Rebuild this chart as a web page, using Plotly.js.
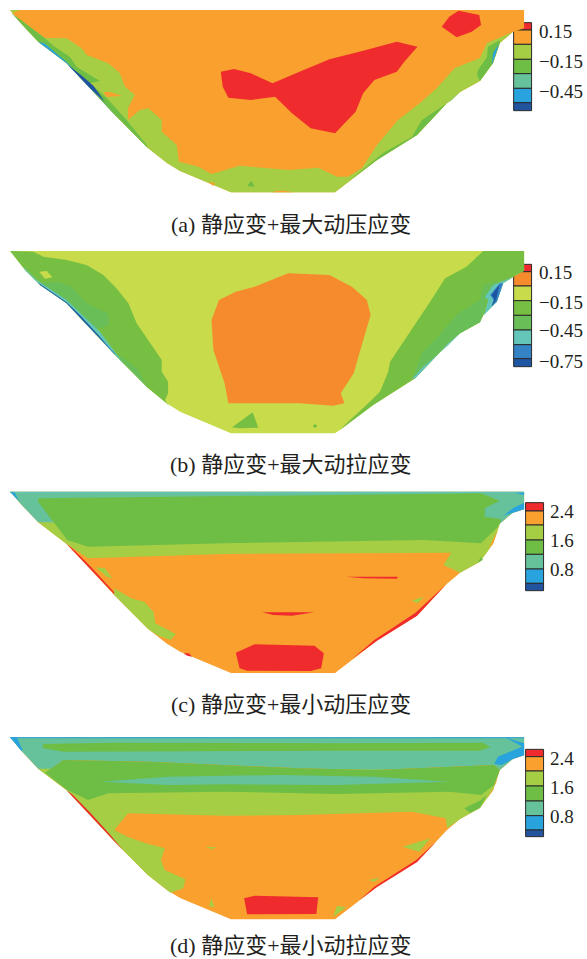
<!DOCTYPE html>
<html><head><meta charset="utf-8">
<script src="https://cdn.plot.ly/plotly-3.0.1.min.js"></script>
<style>html,body{margin:0;padding:0;background:#fff}#c{width:587px;height:959px}</style>
</head><body><div id="c"></div>
<script>
// Palettes
const R='#EF2B2D',O='#F9A02E',L='#A5CE45',G='#6EBD45',T='#66C29A',B='#29A3DD',D='#21539F';
const O2='#F68B2E',L2='#C7DB4B',G2='#76BF43',M2='#6ABE57',T2='#63C6B8',B2='#3483C5',D2='#1F56A4';

// Contour regions, in panel units
const captions=['(a) 静应变+最大动压应变','(b) 静应变+最大动拉应变','(c) 静应变+最小动压应变','(d) 静应变+最小动拉应变'];

const a_outer=[[27,30],[1400,30],[1400,85],[1370,96],[1335,129],[1317,189],[1282,243],[1229,276],[1194,309],[1114,405],[1007,480],[908,564],[895,577],[617,577],[481,513],[446,489],[395,444],[302,339],[240,264],[178,190],[102,125],[58,73]];
const a_lime=[[27,30],[53,30],[31,40],[120,114],[178,115],[218,145],[232,165],[289,190],[320,219],[334,260],[360,285],[342,325],[342,360],[374,330],[396,325],[432,360],[432,395],[472,435],[478,485],[530,500],[565,522],[640,497],[700,503],[770,510],[850,503],[900,530],[930,530],[967,504],[1007,435],[1063,360],[1122,309],[1167,264],[1215,204],[1282,174],[1301,129],[1370,96],[1400,85],[1370,96],[1335,129],[1317,189],[1282,243],[1229,276],[1194,309],[1114,405],[1007,480],[908,564],[895,577],[617,577],[481,513],[446,489],[395,444],[302,339],[240,264],[178,190],[102,125],[58,73]];
const a_orange1=[[276,276],[294,276],[326,288],[285,291]];
const a_orange2=[[555,545],[575,550],[570,558]];
const a_orange3=[[725,577],[740,572],[760,572],[785,577]];
const a_green1=[[660,558],[672,542],[680,560]];
const a_green2=[[930,545],[1023,459],[1100,411],[1127,360],[1207,300],[1229,276],[1194,309],[1114,405],[1007,480]];
const a_green3=[[1274,225],[1277,210],[1301,171],[1303,141],[1335,120],[1335,129],[1317,189],[1282,243]];
const a_green4=[[31,40],[120,115],[147,141],[187,171],[205,201],[267,243],[240,249],[285,294],[338,360],[392,435],[395,444],[302,339],[240,264],[178,190],[102,125],[58,73]];
const a_blue1=[[102,125],[120,131],[178,186],[214,230],[276,306],[320,360],[302,339],[240,264],[178,190]];
const a_blue2=[[1314,195],[1317,159],[1333,132],[1317,189]];
const a_dark1=[[182,195],[222,230],[250,258],[280,305],[240,264]];
const a_red1=[[590,215],[625,207],[670,220],[728,250],[800,215],[880,178],[960,155],[1060,125],[1115,140],[1080,185],[1060,215],[1000,240],[970,280],[950,335],[895,400],[830,385],[780,340],[735,290],[670,300],[610,293],[595,260]];
const a_red2=[[1180,80],[1200,50],[1225,32],[1280,45],[1285,75],[1260,95],[1220,112]];

const b_outer=[[27,33],[1400,33],[1400,92],[1371,110],[1344,130],[1327,185],[1291,225],[1282,247],[1229,280],[1198,310],[1109,415],[997,495],[908,570],[895,580],[617,580],[481,515],[445,490],[396,445],[303,340],[240,265],[178,190],[107,135],[67,90]];
const b_green1=[[27,33],[89,35],[116,50],[178,60],[231,75],[276,105],[311,145],[343,190],[365,250],[432,360],[432,395],[449,425],[449,460],[441,480],[454,505],[445,490],[396,445],[303,340],[240,265],[178,190],[107,135],[67,90]];
const b_green2=[[1291,33],[1400,33],[1400,92],[1371,110],[1344,130],[1327,185],[1291,225],[1282,247],[1229,280],[1198,310],[1109,415],[997,495],[908,570],[930,545],[979,495],[1015,455],[1037,395],[1042,365],[1149,185],[1189,115],[1246,80]];
const b_mid1=[[107,130],[156,125],[191,140],[231,190],[289,220],[292,255],[267,265],[240,265],[178,190]];
const b_mid1b=[[303,340],[320,345],[365,385],[396,445]];
const b_mid2=[[1104,410],[1126,340],[1166,295],[1224,220],[1282,180],[1291,135],[1330,122],[1300,170],[1291,225],[1282,247],[1229,280],[1198,310],[1109,415]];
const b_teal1=[[62,80],[98,120],[178,180],[236,243],[267,275],[329,370],[303,340],[240,265],[178,190],[107,135],[67,90]];
const b_teal2=[[1100,418],[1126,385],[1193,320],[1229,280],[1198,310],[1109,415]];
const b_teal3=[[1295,170],[1318,135],[1371,110],[1344,130],[1327,185],[1293,225],[1304,180]];
const b_dark1=[[102,128],[178,187],[214,226],[267,290],[303,338],[240,265],[178,190],[107,135]];
const b_blue1=[[267,295],[311,345],[303,340],[260,285]];
const b_blue2=[[1309,165],[1335,130],[1344,130],[1327,185],[1313,200],[1319,180]];
const b_dark2=[[1313,165],[1335,132],[1325,180],[1313,198],[1320,178]];
const b_lime1=[[105,95],[125,93],[140,112],[120,116]];
const b_orange=[[585,180],[630,155],[680,140],[770,100],[880,105],[940,140],[980,180],[990,225],[960,340],[945,400],[910,460],[920,490],[890,497],[800,490],[610,490],[600,430],[570,330],[565,240]];
const b_small1=[[620,562],[675,517],[690,563],[640,565]];
const b_small2=[[835,558],[842,552],[848,558],[842,564]];

const c_outer=[[27,35],[1400,35],[1400,88],[1370,98],[1335,131],[1317,191],[1282,245],[1229,278],[1194,311],[1114,407],[1007,482],[908,566],[895,579],[617,579],[481,515],[446,491],[395,446],[302,341],[240,266],[178,192],[102,127],[58,75]];
const c_teal=[[27,35],[1400,35],[1400,88],[1370,98],[1335,131],[1000,150],[135,130],[102,127],[58,75]];
const c_lime=[[102,127],[1335,131],[1317,191],[1282,245],[1229,278],[1185,255],[1205,218],[600,222],[235,235],[178,192]];
const c_green=[[102,55],[1285,40],[1335,62],[1295,85],[1295,110],[1340,118],[1330,140],[1285,190],[1130,180],[600,190],[235,200],[180,180],[135,115],[102,65]];
const c_strip=[[27,35],[1400,35],[1400,39],[27,39]];
const c_blue1=[[27,35],[40,38],[50,62]];
const c_blue2=[[1375,38],[1400,38],[1400,45]];
const c_blue3=[[1345,107],[1370,85],[1400,68],[1400,88],[1370,98]];
const c_patch=[[1275,250],[1285,230],[1290,240],[1280,245]];
const c_orange=[[1305,205],[1330,150],[1317,191]];
const c_red1=[[630,518],[680,493],[840,497],[865,520],[858,565],[830,573],[660,572],[640,565]];
const c_red2=[[700,397],[840,397],[780,407],[730,405]];
const c_red3=[[925,290],[1063,290],[1060,296],[970,295]];
const c_red4=[[178,192],[240,266],[302,341],[340,384],[302,333],[240,257],[195,207]];
const c_red5=[[940,538],[1007,482],[1114,407],[1190,315],[1110,398],[1000,480]];
const c_red6=[[490,520],[505,520],[513,530],[500,527]];
const c_lime1=[[255,262],[280,265],[300,295],[285,290]];
const c_lime2=[[305,325],[350,355],[385,365],[410,395],[415,430],[470,462],[455,480],[420,466],[395,446],[345,389],[305,345]];
const c_lime3=[[1100,362],[1132,350],[1115,370]];

const d_outer=[[27,52],[1400,52],[1400,106],[1370,117],[1335,150],[1317,210],[1282,264],[1229,297],[1194,330],[1114,426],[1007,501],[908,585],[895,598],[617,598],[481,534],[446,510],[395,465],[302,360],[240,285],[178,211],[102,146],[58,94]];
const d_teal=[[27,52],[1400,52],[1400,106],[1370,117],[1335,150],[1320,135],[1000,150],[800,145],[400,125],[170,120],[120,160],[102,146],[58,94]];
const d_lime=[[102,146],[1335,150],[1317,210],[1282,264],[1229,297],[1195,325],[1190,295],[1100,275],[800,285],[600,287],[342,280],[305,330],[340,350],[390,370],[440,385],[430,420],[440,450],[495,478],[490,505],[455,518],[446,510],[395,465],[302,360],[240,285],[178,211]];
const d_green=[[120,158],[170,120],[400,125],[800,145],[1000,150],[1320,135],[1335,150],[1320,195],[1285,225],[1200,215],[900,222],[600,215],[290,220],[235,240],[180,210]];
const d_strip=[[115,72],[300,68],[900,70],[1290,68],[1310,82],[1280,92],[900,92],[400,95],[170,95],[115,85]];
const d_lens=[[270,185],[450,170],[750,165],[1000,170],[1200,185],[900,195],[600,193],[450,195]];
const d_top=[[27,52],[1400,52],[1400,55],[27,55]];
const d_blue1=[[27,52],[45,52],[60,90],[58,94]];
const d_blue2=[[1350,52],[1400,70],[1400,106],[1370,117],[1340,135],[1320,132],[1330,110],[1395,80]];
const d_patch=[[1240,265],[1285,240],[1300,225],[1282,264],[1255,278]];
const d_orange=[[1317,210],[1330,165],[1325,190],[1300,238]];
const d_red1=[[652,535],[680,527],[850,532],[845,582],[660,583]];
const d_red2=[[178,211],[240,285],[302,360],[330,393],[295,345],[240,277],[195,225]];
const d_red3=[[960,541],[1007,501],[1114,426],[1165,365],[1112,420],[1000,500]];
const d_lime1=[[1075,380],[1150,355],[1120,395]];
const d_lime2=[[548,380],[580,382],[565,387]];
const d_lime3=[[985,480],[1015,473],[1000,485]];
const d_lime4=[[558,558],[565,535],[572,562]];
const d_lime5=[[890,590],[900,558],[925,562]];

const layersA=[[a_outer,O],[a_lime,L],[a_orange1,O],[a_orange2,O],[a_orange3,O],[a_green1,G],[a_green2,G],[a_green3,G],[a_green4,G],[a_blue1,B],[a_blue2,B],[a_dark1,D],[a_red1,R],[a_red2,R]];
const layersB=[[b_outer,L2],[b_green1,G2],[b_green2,G2],[b_mid1,M2],[b_mid1b,M2],[b_mid2,M2],[b_teal1,T2],[b_teal2,T2],[b_teal3,T2],[b_dark1,D2],[b_blue1,B2],[b_blue2,B2],[b_dark2,D2],[b_lime1,L2],[b_orange,O2],[b_small1,G2],[b_small2,G2]];
const layersC=[[c_outer,O],[c_teal,T],[c_lime,L],[c_green,G],[c_strip,T2],[c_blue1,B],[c_blue2,B],[c_blue3,B],[c_patch,G],[c_orange,O],[c_red1,R],[c_red2,R],[c_red3,R],[c_red4,R],[c_red5,R],[c_red6,R],[c_lime1,L],[c_lime2,L],[c_lime3,L]];
const layersD=[[d_outer,O],[d_teal,T],[d_lime,L],[d_green,G],[d_strip,G],[d_lens,T],[d_top,B],[d_blue1,B],[d_blue2,B],[d_patch,G],[d_orange,O],[d_red1,R],[d_red2,R],[d_red3,R],[d_lime1,L],[d_lime2,L],[d_lime3,L],[d_lime4,L],[d_lime5,L]];

// Legend bars: segment edges in panel units, colours, and labels
const edgesA=[68,90,133,178,221,265,308,332];
const edgesB=[73,95,138,182,226,270,314,356,380];
const edgesC=[68,93,135,180,223,267,310,332];
const edgesD=[88,110,153,198,243,287,330,350];
const colorsA=[R,O,L,G,T,B,D];
const colorsB=[R,O2,L2,G2,M2,T2,B2,D2];
const tickTextA=['0.15','\u22120.15','\u22120.45'];
const tickTextB=['0.15','\u22120.15','\u22120.45','\u22120.75'];
const tickTextC=['2.4','1.6','0.8'];
const tickYA=[100,190,279];
const tickYB=[103,193,276,369];
const tickYC=[100,188,275];
const tickYD=[122,209,296];

const panels=[
 {layers:layersA,edges:edgesA,colors:colorsA,ticks:tickTextA,tickY:tickYA,barX:1396,textX:1440,capY:672,top:0,h:240},
 {layers:layersB,edges:edgesB,colors:colorsB,ticks:tickTextB,tickY:tickYB,barX:1396,textX:1440,capY:672,top:240,h:240},
 {layers:layersC,edges:edgesC,colors:colorsA,ticks:tickTextC,tickY:tickYC,barX:1428,textX:1469,capY:672,top:480,h:240},
 {layers:layersD,edges:edgesD,colors:colorsA,ticks:tickTextC,tickY:tickYD,barX:1428,textX:1469,capY:675,top:720,h:239}
];

const serif='"Liberation Serif","Noto Sans CJK SC",serif';
const traces=[];
const layout={width:587,height:959,margin:{l:0,r:0,t:0,b:0,pad:0},showlegend:false,
  paper_bgcolor:'#fff',plot_bgcolor:'rgba(0,0,0,0)',barmode:'overlay',hovermode:false,annotations:[]};

panels.forEach((p,i)=>{
  const sfx=i===0?'':String(i+1);
  const xa='x'+sfx, ya='y'+sfx;
  layout['xaxis'+sfx]={domain:[0,1],range:[0,1568],visible:false,fixedrange:true,anchor:ya};
  layout['yaxis'+sfx]={domain:[1-(p.top+p.h)/959,1-p.top/959],range:[p.h*3,0],visible:false,fixedrange:true,anchor:xa};
  p.layers.forEach(([poly,col])=>{
    traces.push({type:'scatter',mode:'lines',xaxis:xa,yaxis:ya,
      x:poly.map(q=>q[0]).concat(poly[0][0]),y:poly.map(q=>q[1]).concat(poly[0][1]),
      fill:'toself',fillcolor:col,line:{width:0,color:col},hoverinfo:'skip'});
  });
  const base=p.edges.slice(0,-1), hts=base.map((e,k)=>p.edges[k+1]-e);
  traces.push({type:'bar',orientation:'v',xaxis:xa,yaxis:ya,x:base.map(()=>p.barX),y:hts,base:base,width:48,
    marker:{color:p.colors,line:{color:'#2a2a2a',width:1}},hoverinfo:'skip'});
  traces.push({type:'scatter',mode:'text',xaxis:xa,yaxis:ya,x:p.ticks.map(()=>p.textX),y:p.tickY,text:p.ticks,
    textposition:'middle right',textfont:{family:serif,size:19,color:'#231f20'},hoverinfo:'skip'});
  layout.annotations.push({xref:xa,yref:ya,x:778,y:p.capY,text:captions[i],showarrow:false,xanchor:'center',yanchor:'middle',
    font:{family:serif,size:22,color:'#231f20'}});
});

Plotly.newPlot('c',traces,layout,{displayModeBar:false,staticPlot:true});
</script></body></html>
